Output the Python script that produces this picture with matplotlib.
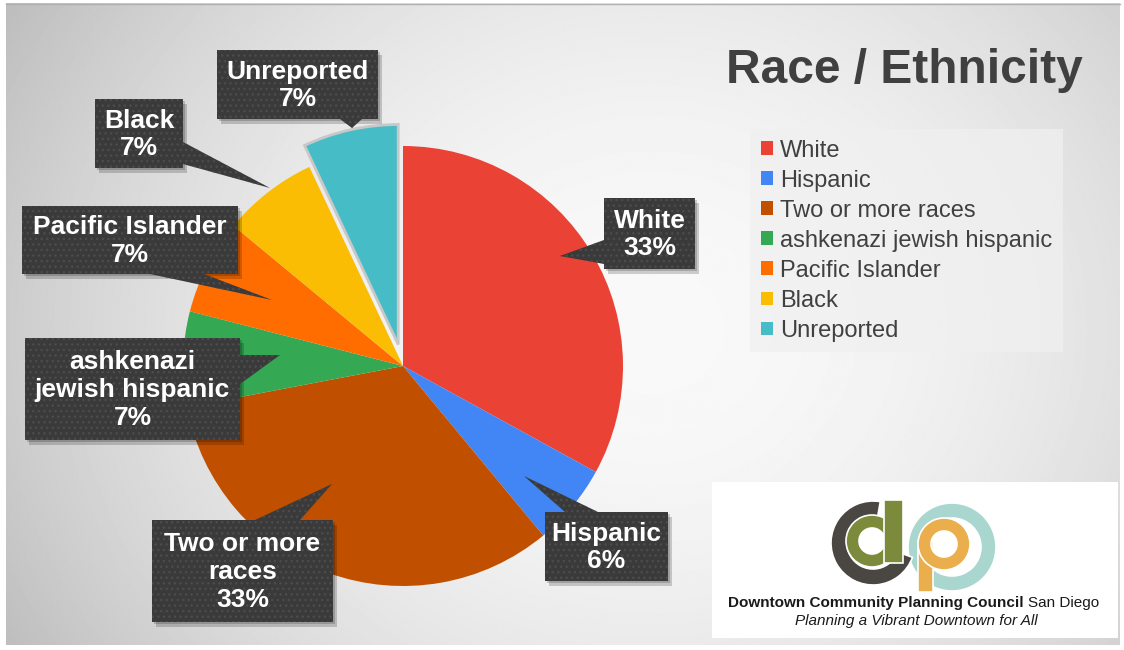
import numpy as np
import matplotlib.pyplot as plt
from matplotlib.patches import Rectangle, Polygon, Wedge, Patch

plt.rcParams['font.family'] = ['Liberation Sans', 'DejaVu Sans']

# data
labels = ['White', 'Hispanic', 'Two or more races', 'ashkenazi jewish hispanic',
          'Pacific Islander', 'Black', 'Unreported']
shares = [33, 6, 33, 7, 7, 7, 7]
colors = ['#ea4335', '#4285f4', '#c05000', '#34a853', '#ff6d01', '#fbbc04', '#46bdc6']
callout_names = ['White', 'Hispanic', 'Two or more\nraces', 'ashkenazi\njewish hispanic',
                 'Pacific Islander', 'Black', 'Unreported']
explode = [0, 0, 0, 0, 0, 0, 22]

# callout layout in pixels (x0, y0, x1, y1) and pointer triangle
boxes = {
    'White': ((604, 198, 695, 269), [(604, 240), (560, 256), (604, 264)]),
    'Hispanic': ((545, 512, 668, 581), [(565, 512), (524, 476), (598, 512)]),
    'Two or more races': ((152, 520, 333, 622), [(255, 520), (332, 484), (300, 520)]),
    'ashkenazi jewish hispanic': ((25, 338, 240, 440), [(240, 355), (280, 355), (240, 384)]),
    'Pacific Islander': ((22, 206, 238, 274), [(150, 274), (272, 300), (204, 274)]),
    'Black': ((95, 99, 183, 168), [(183, 142), (270, 188), (183, 164)]),
    'Unreported': ((217, 50, 378, 119), [(340, 119), (352, 128), (362, 119)]),
}

W, H = 1124, 650
fig = plt.figure(figsize=(W / 100, H / 100), dpi=100, facecolor='white')
ax = fig.add_axes([0, 0, 1, 1])

# background: soft radial gray gradient
yy, xx = np.mgrid[0:H, 0:W]
d2 = ((xx - 650) / 620.0) ** 2 + ((yy - 330) / 540.0) ** 2
bg = np.clip(0.975 - 0.16 * d2, 0.74, 1.0)
ax.imshow(bg, cmap='gray', vmin=0, vmax=1, extent=(6, 1120, 645, 3),
          interpolation='bilinear', zorder=0)
ax.plot([6, 1120], [3.5, 3.5], color='#b0b0b0', lw=1, zorder=1)

# pie (y axis points down, so start at -90 and go counterclockwise in data)
wedges, _ = ax.pie(shares, colors=colors, startangle=-90, counterclock=True,
                   center=(403, 366), radius=220, explode=explode,
                   wedgeprops=dict(linewidth=0))
for w in wedges:
    w.set_zorder(2)
wedges[-1].set_edgecolor('#c8c8c8')
wedges[-1].set_linewidth(2)

# callouts
for name, lab, val in zip(callout_names, labels, shares):
    (x0, y0, x1, y1), tri = boxes[lab]
    ax.add_patch(Rectangle((x0 + 4, y0 + 5), x1 - x0, y1 - y0, facecolor='black',
                           alpha=0.18, lw=0, zorder=3))
    ax.add_patch(Rectangle((x0 + 2, y0 + 2), x1 - x0, y1 - y0, facecolor='black',
                           alpha=0.18, lw=0, zorder=3))
    ax.add_patch(Polygon(tri, closed=True, facecolor='#3a3a3a', edgecolor='#4c4c4c',
                         hatch='...', lw=0, zorder=4))
    ax.add_patch(Rectangle((x0, y0), x1 - x0, y1 - y0, facecolor='#3a3a3a',
                           edgecolor='#4c4c4c', hatch='...', lw=0, zorder=4))
    ax.text((x0 + x1) / 2, (y0 + y1) / 2 + 1, f'{name}\n{val}%', ha='center', va='center',
            color='white', fontsize=19, fontweight='bold', linespacing=1.2, zorder=5)

# title
ax.text(904, 83, 'Race / Ethnicity', ha='center', va='baseline', fontsize=34.5,
        fontweight='bold', color='#404040', zorder=5)

# legend
handles = [Patch(facecolor=c, edgecolor='none') for c in colors]
leg = ax.legend(handles, labels, loc='upper left', bbox_to_anchor=(750 / W, 1 - 129 / H),
                bbox_transform=ax.transAxes, borderaxespad=0, fontsize=17,
                handlelength=0.52, handleheight=0.52, handletextpad=0.3,
                labelspacing=0.34, borderpad=0.45, frameon=True, fancybox=False)
leg.get_frame().set_facecolor('#f0f0f0')
leg.get_frame().set_alpha(0.75)
leg.get_frame().set_edgecolor('none')
for t in leg.get_texts():
    t.set_color('#404040')
leg.set_zorder(5)

# logo panel
ax.add_patch(Rectangle((712, 482), 406, 156, facecolor='white', lw=0, zorder=3))


def ring(cx, cy, r, w, phi1, phi2, color):
    # visual angles (counterclockwise on screen) -> data angles on a flipped y axis
    ax.add_patch(Wedge((cx, cy), r, -phi2, -phi1, width=w, facecolor=color,
                       edgecolor='white', lw=1.2, zorder=4))


ring(952, 547, 44, 15, 0, 360, '#a9d7cf')
ring(873, 543, 42, 16, 80, 340, '#4a4641')
ring(872, 541, 26, 13, 0, 360, '#7b8a3b')
ax.add_patch(Rectangle((884, 500), 19, 63, facecolor='#7b8a3b', edgecolor='white',
                       lw=1.2, zorder=4))
ax.add_patch(Rectangle((918, 541), 15, 51, facecolor='#eaae4c', edgecolor='white',
                       lw=1.2, zorder=4))
ring(944, 544, 26, 13, 0, 360, '#eaae4c')

ax.text(1024, 607, 'Downtown Community Planning Council', ha='right', va='baseline',
        fontsize=11, fontweight='bold', color='#1a1a1a', zorder=5)
ax.text(1028, 607, 'San Diego', ha='left', va='baseline', fontsize=11,
        color='#1a1a1a', zorder=5)
ax.text(916, 625, 'Planning a Vibrant Downtown for All', ha='center', va='baseline',
        fontsize=11, fontstyle='italic', color='#1a1a1a', zorder=5)

ax.set_xlim(0, W)
ax.set_ylim(H, 0)
ax.set_aspect('auto')
ax.axis('off')

fig.savefig('out.png', dpi=100, facecolor=fig.get_facecolor())
